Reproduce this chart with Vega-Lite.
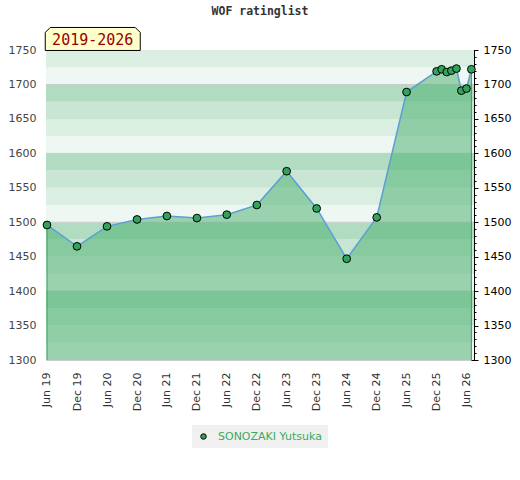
{
  "$schema": "https://vega.github.io/schema/vega-lite/v6.json",
  "autosize": {"type": "none"},
  "padding": {"left": 46, "top": 50, "right": 46, "bottom": 120},
  "width": 428,
  "height": 310,
  "background": "#ffffff",
  "title": {"text": "WOF ratinglist", "font": "DejaVu Sans Mono", "fontSize": 11.5, "fontWeight": "bold", "color": "#333333", "anchor": "middle", "offset": 8},
  "config": {"view": {"stroke": "#cccccc"}},
  "datasets": {
    "ratings": [
      {"date": "2019-06-01", "rating": 1496, "player": "SONOZAKI Yutsuka"},
      {"date": "2019-12-01", "rating": 1465, "player": "SONOZAKI Yutsuka"},
      {"date": "2020-06-01", "rating": 1494, "player": "SONOZAKI Yutsuka"},
      {"date": "2020-12-01", "rating": 1504, "player": "SONOZAKI Yutsuka"},
      {"date": "2021-06-01", "rating": 1509, "player": "SONOZAKI Yutsuka"},
      {"date": "2021-12-01", "rating": 1506, "player": "SONOZAKI Yutsuka"},
      {"date": "2022-06-01", "rating": 1511, "player": "SONOZAKI Yutsuka"},
      {"date": "2022-12-01", "rating": 1525, "player": "SONOZAKI Yutsuka"},
      {"date": "2023-06-01", "rating": 1574, "player": "SONOZAKI Yutsuka"},
      {"date": "2023-12-01", "rating": 1520, "player": "SONOZAKI Yutsuka"},
      {"date": "2024-06-01", "rating": 1447, "player": "SONOZAKI Yutsuka"},
      {"date": "2024-12-01", "rating": 1507, "player": "SONOZAKI Yutsuka"},
      {"date": "2025-06-01", "rating": 1689, "player": "SONOZAKI Yutsuka"},
      {"date": "2025-12-01", "rating": 1719, "player": "SONOZAKI Yutsuka"},
      {"date": "2026-01-01", "rating": 1722, "player": "SONOZAKI Yutsuka"},
      {"date": "2026-02-01", "rating": 1718, "player": "SONOZAKI Yutsuka"},
      {"date": "2026-03-01", "rating": 1720, "player": "SONOZAKI Yutsuka"},
      {"date": "2026-04-01", "rating": 1723, "player": "SONOZAKI Yutsuka"},
      {"date": "2026-05-01", "rating": 1691, "player": "SONOZAKI Yutsuka"},
      {"date": "2026-06-01", "rating": 1694, "player": "SONOZAKI Yutsuka"},
      {"date": "2026-07-01", "rating": 1722, "player": "SONOZAKI Yutsuka"}
    ],
    "bands": [
      {"lo": 1300, "hi": 1325, "shade": "p"},
      {"lo": 1325, "hi": 1350, "shade": "q"},
      {"lo": 1350, "hi": 1375, "shade": "r"},
      {"lo": 1375, "hi": 1400, "shade": "s"},
      {"lo": 1400, "hi": 1425, "shade": "p"},
      {"lo": 1425, "hi": 1450, "shade": "q"},
      {"lo": 1450, "hi": 1475, "shade": "r"},
      {"lo": 1475, "hi": 1500, "shade": "s"},
      {"lo": 1500, "hi": 1525, "shade": "p"},
      {"lo": 1525, "hi": 1550, "shade": "q"},
      {"lo": 1550, "hi": 1575, "shade": "r"},
      {"lo": 1575, "hi": 1600, "shade": "s"},
      {"lo": 1600, "hi": 1625, "shade": "p"},
      {"lo": 1625, "hi": 1650, "shade": "q"},
      {"lo": 1650, "hi": 1675, "shade": "r"},
      {"lo": 1675, "hi": 1700, "shade": "s"},
      {"lo": 1700, "hi": 1725, "shade": "p"},
      {"lo": 1725, "hi": 1750, "shade": "q"}
    ],
    "grid": [{"v": 1400}, {"v": 1500}, {"v": 1600}, {"v": 1700}]
  },
  "resolve": {"axis": {"x": "independent", "y": "independent"}},
  "layer": [
    {
      "data": {"name": "bands"},
      "mark": {"type": "rect"},
      "encoding": {
        "y": {"field": "lo", "type": "quantitative", "scale": {"domain": [1300, 1750], "nice": false, "zero": false},
              "axis": {"orient": "left", "title": null, "format": "d", "values": [1300, 1350, 1400, 1450, 1500, 1550, 1600, 1650, 1700, 1750], "ticks": false, "domain": false, "grid": false, "labelPadding": 10, "labelColor": "#444444", "labelFont": "DejaVu Sans", "labelFontSize": 11}},
        "y2": {"field": "hi"},
        "fill": {"field": "shade", "type": "nominal", "scale": {"domain": ["p", "q", "r", "s"], "range": ["#eff7f2", "#dbeee2", "#c8e6d3", "#b2dcc2"]}, "legend": null}
      }
    },
    {
      "data": {"name": "grid"},
      "mark": {"type": "rule", "color": "#c5cfc8", "strokeWidth": 1},
      "encoding": {
        "y": {"field": "v", "type": "quantitative", "axis": null}
      }
    },
    {
      "data": {"name": "ratings"},
      "mark": {"type": "area", "color": "#46ae6c", "opacity": 0.5},
      "encoding": {
        "x": {"field": "date", "type": "temporal",
              "scale": {"type": "utc", "domain": [1558828800000, 1784246400000]},
              "axis": {"orient": "bottom", "title": null, "format": "%b %y", "labelAngle": 270, "ticks": false, "domain": false, "grid": false, "labelPadding": 12, "labelOverlap": false, "labelColor": "#333333", "labelFont": "DejaVu Sans", "labelFontSize": 11,
                "values": [1559347200000, 1575158400000, 1590969600000, 1606780800000, 1622505600000, 1638316800000, 1654041600000, 1669852800000, 1685577600000, 1701388800000, 1717200000000, 1733011200000, 1748736000000, 1764547200000, 1780272000000]}},
        "y": {"field": "rating", "type": "quantitative",
              "axis": {"orient": "right", "title": null, "format": "d", "values": [1300, 1350, 1400, 1450, 1500, 1550, 1600, 1650, 1700, 1750], "tickSize": 4, "tickColor": "#000000", "domainColor": "#000000", "grid": false, "labelPadding": 5, "labelColor": "#000000", "labelFont": "DejaVu Sans", "labelFontSize": 11}},
        "y2": {"datum": 1300}
      }
    },
    {
      "data": {"name": "ratings"},
      "transform": [
        {"joinaggregate": [{"op": "min", "field": "date", "as": "d0"}, {"op": "max", "field": "date", "as": "d1"}]},
        {"filter": "time(datum.date) == time(datum.d0) || time(datum.date) == time(datum.d1)"}
      ],
      "mark": {"type": "rule", "color": "#35a05a", "strokeWidth": 1},
      "encoding": {
        "x": {"field": "date", "type": "temporal", "axis": null},
        "y": {"field": "rating", "type": "quantitative", "axis": null},
        "y2": {"datum": 1300}
      }
    },
    {
      "data": {"name": "ratings"},
      "mark": {"type": "line", "color": "#5b9fd6", "strokeWidth": 1.5},
      "encoding": {
        "x": {"field": "date", "type": "temporal", "axis": null},
        "y": {"field": "rating", "type": "quantitative",
              "axis": {"orient": "right", "title": null, "values": [1300, 1310, 1320, 1330, 1340, 1350, 1360, 1370, 1380, 1390, 1400, 1410, 1420, 1430, 1440, 1450, 1460, 1470, 1480, 1490, 1500, 1510, 1520, 1530, 1540, 1550, 1560, 1570, 1580, 1590, 1600, 1610, 1620, 1630, 1640, 1650, 1660, 1670, 1680, 1690, 1700, 1710, 1720, 1730, 1740, 1750], "labels": false, "domain": false, "grid": false, "offset": -3, "tickSize": 5, "tickColor": "#000000"}}
      }
    },
    {
      "data": {"name": "ratings"},
      "mark": {"type": "point", "filled": true, "shape": "circle", "size": 60, "stroke": "#000000", "strokeWidth": 1, "opacity": 1},
      "encoding": {
        "x": {"field": "date", "type": "temporal", "axis": null},
        "y": {"field": "rating", "type": "quantitative", "axis": null},
        "color": {"field": "player", "type": "nominal", "scale": {"range": ["#33a35c"]},
                  "legend": {"orient": "none", "legendX": 146, "legendY": 375, "title": null, "padding": 6, "labelOffset": 9, "fillColor": "#f0f0f0", "labelColor": "#3aaa62", "labelFont": "DejaVu Sans", "labelFontSize": 11, "symbolType": "circle", "symbolSize": 30, "symbolStrokeColor": "#000000", "symbolStrokeWidth": 1, "symbolOpacity": 1}}
      }
    },
    {
      "data": {"values": [{}]},
      "mark": {"type": "point", "filled": true, "opacity": 1, "fill": "#ffffcc", "stroke": "#000000", "strokeWidth": 1, "size": 9025,
               "shape": "M -1 0.242 L -1 -0.137 L -0.895 -0.242 L 0.895 -0.242 L 1 -0.137 L 1 0.242 Z"},
      "encoding": {
        "x": {"datum": 1583452800000, "type": "temporal", "axis": null},
        "y": {"datum": 1766, "type": "quantitative", "axis": null}
      }
    },
    {
      "data": {"values": [{}]},
      "mark": {"type": "text", "text": "2019-2026", "font": "DejaVu Sans Mono", "fontSize": 15, "color": "#990000", "align": "center", "baseline": "middle", "dy": 1},
      "encoding": {
        "x": {"datum": 1583452800000, "type": "temporal", "axis": null},
        "y": {"datum": 1766, "type": "quantitative", "axis": null}
      }
    }
  ]
}
